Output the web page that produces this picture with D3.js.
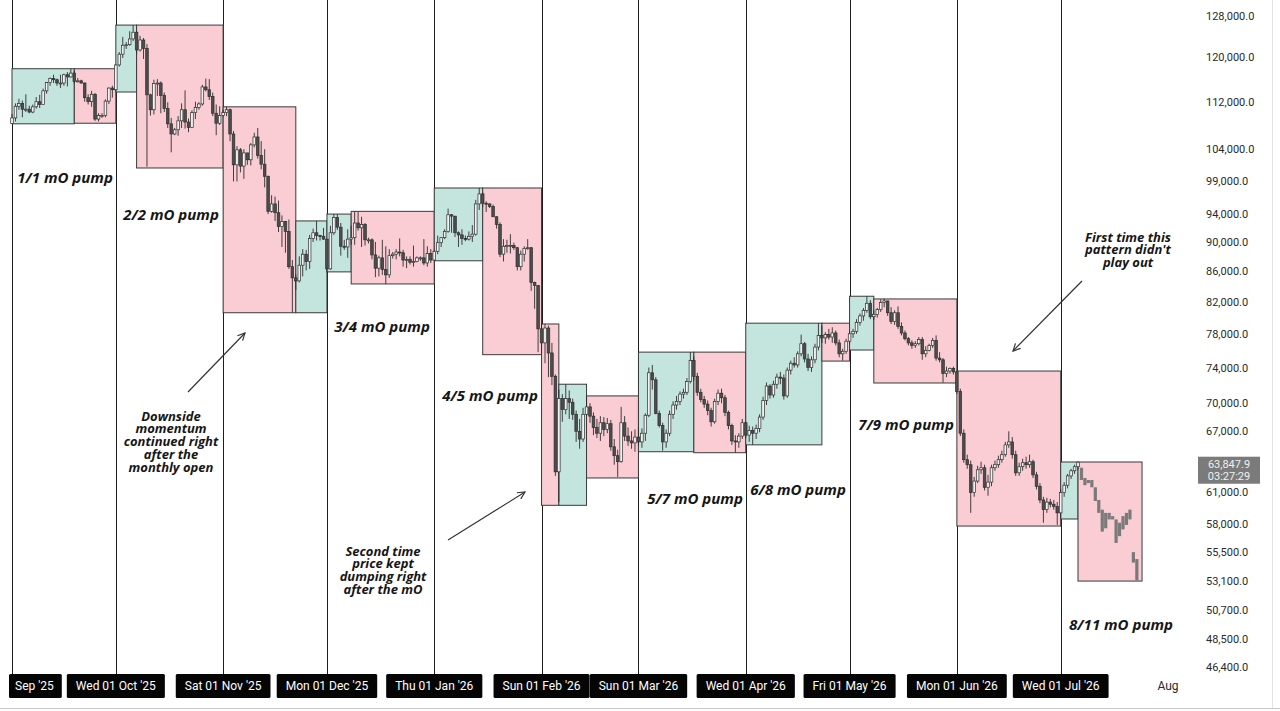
<!DOCTYPE html>
<html>
<head>
<meta charset="utf-8">
<script src="https://cdn.jsdelivr.net/npm/d3@7"></script>
<style>
  html, body { margin: 0; padding: 0; background: #fff; }
  svg { display: block; }
</style>
</head>
<body>
<svg id="chart" width="1280" height="711"></svg>
<script>
// prices are in USD thousands
// daily candles: [high, low, close], open = previous close
const firstOpen = 108.25

const sep25 = [[109.9,108.2,109.2],[111.7,108.6,111.2],[112.5,110.6,111.7],[112.2,109.3,110.7],[113.3,110.2,110.7],
  [111.3,110.0,110.2],[111.5,110.0,111.1],[112.8,110.8,112.0],[113.2,110.9,111.5],[114.3,111.6,113.9],
  [115.5,113.4,115.4],[116.3,114.8,116.1],[116.8,115.3,115.9],[116.1,114.8,115.3],[116.8,114.4,115.3],
  [117.0,114.8,116.8],[117.3,114.7,116.4],[117.9,116.3,117.1],[117.5,115.2,115.6],[116.2,115.4,115.7],
  [115.9,115.2,115.3],[115.4,112.0,112.7],[113.3,111.5,112.0],[113.9,111.1,113.3],[113.5,108.7,109.0],
  [110.0,108.6,109.6],[110.0,109.2,109.6],[112.4,109.3,112.1],[114.5,111.6,114.4],[114.8,112.7,114.1]]

const oct25 = [[118.7,113.9,118.6],[121.0,118.3,120.6],[123.9,119.9,122.3],[122.9,121.6,122.4],[125.0,122.2,123.5],
  [126.2,123.1,124.8],[125.0,120.6,121.4],[124.1,121.1,123.3],[123.7,119.7,121.7],[122.5,101.2,113.2],
  [113.4,109.6,110.6],[115.9,109.8,115.2],[116.0,113.0,115.3],[115.6,110.0,113.1],[113.6,110.2,110.8],
  [111.9,107.5,108.2],[109.2,103.5,106.5],[107.5,106.3,107.2],[109.5,106.2,108.7],[111.7,107.5,110.6],
  [114.0,107.4,108.5],[109.1,106.8,107.6],[110.5,107.5,110.1],[112.0,109.0,111.0],[111.9,110.6,111.6],
  [115.0,111.3,114.6],[116.1,113.8,114.1],[116.0,112.3,112.9],[113.6,109.5,110.0],[111.5,106.3,108.3],
  [111.2,108.0,109.6]]

const nov25 = [[110.6,109.4,110.1],[111.1,109.5,110.6],[110.8,105.3,106.5],[107.0,98.9,101.5],[104.5,98.9,103.9],
  [104.2,100.3,101.3],[104.0,99.3,103.4],[103.4,101.5,102.3],[105.0,101.4,104.7],[106.7,104.3,106.0],
  [107.5,102.5,103.0],[105.3,100.8,101.6],[104.0,98.0,99.7],[99.8,94.0,94.4],[96.8,94.2,95.5],
  [96.6,93.0,94.2],[96.0,91.4,92.2],[93.8,89.3,92.9],[93.0,88.5,91.5],[93.2,86.3,86.6],
  [87.5,80.6,85.1],[85.6,83.5,84.7],[88.0,84.5,86.8],[89.0,85.3,88.3],[88.9,86.1,87.3],
  [91.0,86.3,90.5],[91.9,90.0,91.3],[93.0,90.2,90.9],[91.0,90.2,90.8],[92.0,90.3,90.4]]

const dec25 = [[90.4,85.8,86.3],[92.3,86.2,91.3],[94.0,91.0,93.5],[94.0,91.7,92.1],[92.7,88.1,89.4],
  [90.3,88.9,89.3],[91.8,87.8,90.4],[92.3,89.6,90.6],[94.4,89.6,92.7],[94.4,91.6,92.0],
  [93.6,89.3,92.5],[92.7,89.5,90.3],[90.6,89.8,90.3],[90.5,87.6,88.2],[90.0,85.2,86.4],
  [88.1,85.3,87.8],[90.3,85.5,86.2],[89.4,84.3,85.5],[89.0,85.1,88.1],[88.6,87.7,88.3],
  [89.0,87.6,88.6],[90.5,88.0,88.5],[88.9,86.6,87.5],[88.0,86.4,87.6],[88.0,86.9,87.2],
  [89.5,86.6,87.3],[88.0,87.2,87.8],[88.0,87.4,87.8],[90.4,86.8,87.1],[89.4,86.6,88.4],
  [89.0,87.1,87.5]]

const jan26 = [[88.9,87.4,88.7],[90.9,88.3,89.9],[90.7,89.3,90.6],[91.8,90.4,91.5],[94.8,91.3,93.9],
  [94.0,91.3,93.7],[93.7,90.7,91.3],[91.5,89.3,91.0],[91.8,89.6,90.5],[90.9,90.1,90.4],
  [91.5,90.2,90.8],[92.4,90.0,91.1],[96.1,90.9,95.5],[97.9,94.6,97.0],[97.2,95.0,95.6],
  [95.9,94.3,95.5],[95.6,94.9,95.1],[95.4,93.6,93.6],[93.7,91.9,92.5],[92.8,87.9,88.3],
  [90.4,87.3,89.4],[90.3,88.5,89.5],[91.1,88.4,89.5],[89.9,88.9,89.2],[89.3,86.1,86.6],
  [88.8,86.1,88.3],[89.4,87.3,89.1],[90.4,88.9,89.2],[89.3,83.4,84.5],[84.6,81.1,84.1],
  [84.1,75.8,78.6]]

const feb26 = [[79.3,75.6,76.9],[79.2,74.5,78.7],[79.0,72.9,75.7],[76.9,72.0,73.0],[73.2,62.5,62.9],
  [71.5,60.0,70.5],[71.0,68.0,69.3],[72.1,68.8,70.5],[71.4,68.3,70.1],[70.5,68.2,68.8],
  [69.2,65.9,67.0],[68.3,65.2,66.2],[69.5,65.9,68.8],[70.8,68.6,69.6],[70.0,67.9,68.6],
  [69.0,66.6,67.4],[68.3,66.3,66.8],[68.6,66.0,67.9],[68.5,66.5,67.2],[68.4,66.8,67.8],
  [68.2,65.0,65.4],[66.2,63.6,64.5],[65.1,62.4,63.9],[69.6,63.8,67.9],[68.6,66.0,66.5],
  [67.4,65.5,66.0],[67.0,65.2,65.8],[67.2,64.9,66.4]]

const mar26 = [[67.4,65.5,65.9],[67.3,65.3,66.8],[68.9,66.0,68.7],[74.0,68.5,73.4],[74.3,71.5,72.6],
  [72.9,68.8,68.9],[69.2,67.4,67.6],[67.9,65.0,65.9],[67.2,65.3,66.8],[69.2,66.5,68.8],
  [70.2,68.3,69.8],[70.8,69.3,70.2],[71.3,69.8,71.0],[71.6,70.5,71.2],[72.8,70.9,72.4],
  [75.8,72.2,74.8],[75.3,72.5,73.0],[73.4,70.8,71.2],[71.6,70.1,70.4],[70.8,69.5,69.9],
  [70.3,68.7,69.2],[69.5,67.5,68.0],[70.5,67.8,70.2],[71.5,69.8,71.1],[71.6,70.0,70.6],
  [70.9,68.6,69.0],[69.2,67.2,67.6],[67.8,65.6,66.0],[66.6,64.8,65.9],[66.8,65.3,66.5],
  [68.3,66.2,67.9]]

const apr26 = [[68.0,66.3,66.6],[67.6,65.9,67.1],[67.5,65.6,66.8],[67.7,66.2,67.3],[68.8,66.9,68.5],
  [70.7,68.2,70.3],[72.3,69.8,71.9],[72.1,70.5,70.9],[72.5,70.6,72.1],[73.3,71.6,72.9],
  [73.5,72.1,72.8],[73.2,70.4,70.8],[74.0,70.6,73.7],[74.8,73.2,74.5],[75.2,74.0,74.3],
  [75.9,74.0,75.6],[77.9,75.3,76.8],[77.0,74.6,75.0],[75.6,73.6,74.0],[75.3,73.5,74.9],
  [76.8,74.5,76.4],[79.3,76.0,77.8],[79.0,76.9,77.5],[78.2,76.8,77.9],[78.6,77.3,77.6],
  [78.8,76.9,78.1],[78.4,76.6,76.9],[77.3,75.2,75.6],[76.2,74.8,75.9],[77.4,75.6,77.1]]

const may26 = [[78.3,76.8,78.0],[78.6,77.5,78.3],[79.8,78.0,79.4],[80.5,79.0,80.2],[81.2,79.6,80.9],
  [82.7,80.6,81.8],[82.2,79.8,80.1],[80.9,79.7,80.4],[81.2,80.0,81.0],[82.3,80.7,81.9],
  [82.4,81.3,82.1],[82.1,80.2,80.6],[81.3,79.2,79.5],[80.9,79.1,80.6],[81.4,78.6,78.9],
  [79.4,77.8,78.1],[78.4,77.2,77.4],[77.6,76.6,76.9],[77.2,76.2,76.6],[77.1,76.3,76.8],
  [77.6,76.6,77.3],[77.6,74.9,75.6],[76.5,75.2,76.0],[76.8,75.9,76.6],[77.5,76.3,77.2],
  [77.8,74.8,75.1],[75.8,74.6,74.9],[75.1,72.3,73.3],[74.1,72.9,73.6],[74.0,73.3,73.9],
  [74.1,73.2,73.5]]

const jun26 = [[73.6,71.0,71.3],[71.6,66.5,66.8],[67.2,63.8,64.1],[64.6,63.2,63.6],[64.0,59.0,60.9],
  [62.4,60.5,62.0],[63.5,61.8,63.1],[63.9,62.7,63.3],[63.6,61.1,61.4],[62.6,60.6,61.9],
  [63.6,61.5,63.3],[64.0,63.0,63.6],[64.5,63.3,64.1],[65.0,63.8,64.6],[65.9,64.4,65.6],
  [67.0,65.3,65.9],[66.4,64.2,64.6],[65.0,62.5,62.8],[63.8,62.5,63.4],[64.2,63.0,63.8],
  [64.4,63.2,63.6],[64.6,63.3,63.9],[64.1,62.3,62.6],[62.9,61.2,61.5],[61.8,59.9,60.2],
  [60.5,58.1,59.3],[60.4,59.0,60.0],[60.3,59.5,59.8],[60.2,59.3,59.6],[60.0,57.9,59.0]]

const jul26 = [[61.2,58.5,60.9],[61.9,60.5,61.6],[62.7,61.3,62.5],[63.2,62.2,63.0],[63.6,62.7,63.4],
  [63.87,63.1,63.85]]

// projected bars after the last candle, [top, bottom], from Jul 7 on
const ghostStart = "2026-07-07"
const ghostBars = [[63.3,62.1],[62.3,61.6],[62.1,61.8],[62.1,61.4],[61.4,60.1],[60.2,59.0],
  [59.3,57.3],[59.0,57.6],[59.0,58.4],[58.7,58.4],[58.4,56.3],[58.1,56.9],[58.7,57.5],
  [59.0,57.9],[59.3,58.4],[55.5,54.6],[54.9,53.1]]

const monthData = [["2025-09-01", sep25], ["2025-10-01", oct25], ["2025-11-01", nov25], ["2025-12-01", dec25],
  ["2026-01-01", jan26], ["2026-02-01", feb26], ["2026-03-01", mar26], ["2026-04-01", apr26],
  ["2026-05-01", may26], ["2026-06-01", jun26], ["2026-07-01", jul26]]

// monthly-open boxes: [start, end, top, bottom, kind]
const boxes = [
  ["2025-09-01", "2025-09-19", 117.9, 108.2, "up"], ["2025-09-19", "2025-10-01", 117.9, 108.3, "down"],
  ["2025-10-01", "2025-10-07", 126.2, 113.7, "up"], ["2025-10-07", "2025-11-01", 126.2, 101.0, "down"],
  ["2025-11-01", "2025-11-22", 111.1, 80.6, "down"], ["2025-11-22", "2025-12-01", 93.0, 80.6, "up"],
  ["2025-12-01", "2025-12-08", 94.0, 85.9, "up"], ["2025-12-08", "2026-01-01", 94.4, 84.3, "down"],
  ["2026-01-01", "2026-01-15", 97.9, 87.4, "up"], ["2026-01-15", "2026-02-01", 97.9, 75.5, "down"],
  ["2026-02-01", "2026-02-06", 79.2, 59.7, "down"], ["2026-02-06", "2026-02-14", 72.1, 59.7, "up"],
  ["2026-02-14", "2026-03-01", 70.8, 62.3, "down"],
  ["2026-03-01", "2026-03-17", 75.8, 64.9, "up"], ["2026-03-17", "2026-04-01", 75.8, 64.8, "down"],
  ["2026-04-01", "2026-04-23", 79.3, 65.6, "up"], ["2026-04-23", "2026-05-01", 79.3, 74.75, "down"],
  ["2026-05-01", "2026-05-08", 82.7, 76.05, "up"], ["2026-05-08", "2026-06-01", 82.35, 72.24, "down"],
  ["2026-06-01", "2026-07-01", 73.6, 57.8, "down"],
  ["2026-07-01", "2026-07-06", 63.87, 58.44, "up"], ["2026-07-06", "2026-07-24T12:00", 63.87, 53.05, "down"]
]

const priceTicks = [128, 120, 112, 104, 99, 94, 90, 86, 82, 78, 74, 70, 67, 61, 58, 55.5, 53.1, 50.7, 48.5, 46.4]
const monthLines = ["2025-09-01", "2025-10-01", "2025-11-01", "2025-12-01", "2026-01-01", "2026-02-01",
  "2026-03-01", "2026-04-01", "2026-05-01", "2026-06-01", "2026-07-01"]
const monthLabels = ["Sep '25", "Wed 01 Oct '25", "Sat 01 Nov '25", "Mon 01 Dec '25", "Thu 01 Jan '26", "Sun 01 Feb '26",
  "Sun 01 Mar '26", "Wed 01 Apr '26", "Fri 01 May '26", "Mon 01 Jun '26", "Wed 01 Jul '26"]
const lastPrice = 63.8479
const countdown = "03:27:29"

const svg = d3.select("#chart")
const W = 1280, H = 711
const parse = s => new Date(s.length > 10 ? s + ":00Z" : s + "T00:00:00Z")

const x = d3.scaleUtc()
  .domain([parse("2025-09-01"), parse("2026-08-01")])
  .range([12, 1168])
const y = d3.scaleLog()
  .domain([46.4, 128])
  .range([667, 16])

const upFill = "#c4e5dd", downFill = "#f9cdd3"
const ink = "#2e2e2e"
const fmt = d3.format(",.1f")

// build candles
var candles = []
var prev = firstOpen
monthData.forEach(function (m) {
  var t0 = parse(m[0])
  m[1].forEach(function (r, i) {
    candles.push({ date: d3.utcDay.offset(t0, i), open: prev, high: r[0], low: r[1], close: r[2] })
    prev = r[2]
  })
})

// month lines
svg.append("g")
  .selectAll("line")
  .data(monthLines)
  .enter()
  .append("line")
  .attr("x1", d => Math.round(x(parse(d))) + 0.5)
  .attr("x2", d => Math.round(x(parse(d))) + 0.5)
  .attr("y1", 0)
  .attr("y2", 674)
  .attr("stroke", "#1e1e1e")
  .attr("stroke-width", 1)

// boxes
svg.append("g")
  .selectAll("rect")
  .data(boxes)
  .enter()
  .append("rect")
  .attr("x", d => x(parse(d[0])))
  .attr("y", d => y(d[2]))
  .attr("width", d => x(parse(d[1])) - x(parse(d[0])))
  .attr("height", d => y(d[3]) - y(d[2]))
  .attr("fill", d => d[4] == "up" ? upFill : downFill)
  .attr("stroke", "#3a3a3a")
  .attr("stroke-width", 1)

// candles
var bw = 2.6
var cg = svg.append("g")
cg.selectAll("line")
  .data(candles)
  .enter()
  .append("line")
  .attr("x1", d => x(d.date))
  .attr("x2", d => x(d.date))
  .attr("y1", d => y(Math.max(d.high, d.open, d.close)))
  .attr("y2", d => y(Math.min(d.low, d.open, d.close)))
  .attr("stroke", ink)
  .attr("stroke-width", 0.9)

cg.selectAll("rect")
  .data(candles)
  .enter()
  .append("rect")
  .attr("x", d => x(d.date) - bw / 2)
  .attr("y", d => y(Math.max(d.open, d.close)))
  .attr("width", bw)
  .attr("height", d => Math.max(1, Math.abs(y(d.open) - y(d.close))))
  .attr("fill", d => d.close >= d.open ? "#f2f2f2" : "#4d4d4d")
  .attr("stroke", ink)
  .attr("stroke-width", 0.7)

// projected bars
var g0 = parse(ghostStart)
svg.append("g")
  .selectAll("rect")
  .data(ghostBars)
  .enter()
  .append("rect")
  .attr("x", (d, i) => x(d3.utcDay.offset(g0, i)) - 1.6)
  .attr("y", d => y(d[0]))
  .attr("width", 3.2)
  .attr("height", d => Math.max(1.5, y(d[1]) - y(d[0])))
  .attr("fill", "#7a7a7a")

// price axis
svg.append("line")
  .attr("x1", 1272.5).attr("x2", 1272.5)
  .attr("y1", 0).attr("y2", 709)
  .attr("stroke", "#e2e2e2")
svg.append("line")
  .attr("x1", 0).attr("x2", W)
  .attr("y1", 708.5).attr("y2", 708.5)
  .attr("stroke", "#c8c8c8")

var yAxis = d3.axisRight(y)
  .tickValues(priceTicks)
  .tickFormat(d => fmt(d * 1000))
  .tickSize(0)
  .tickPadding(0)
var ya = svg.append("g")
  .attr("transform", "translate(1206,0)")
  .call(yAxis)
ya.select(".domain").remove()
ya.selectAll("text")
  .attr("fill", "#2a2a2a")
  .style("font-family", "Roboto, 'Liberation Sans', sans-serif")
  .style("font-size", "11px")

// last price tag
var lp = y(lastPrice)
svg.append("rect")
  .attr("x", 1198).attr("y", lp - 5.5)
  .attr("width", 62).attr("height", 27)
  .attr("fill", "#7b7b7b")
svg.append("text")
  .attr("x", 1229).attr("y", lp + 2)
  .attr("text-anchor", "middle")
  .attr("fill", "#f0f0f0")
  .style("font-family", "Roboto, sans-serif")
  .style("font-size", "11px")
  .selectAll("tspan")
  .data([fmt(lastPrice * 1000), countdown])
  .enter()
  .append("tspan")
  .attr("x", 1229)
  .attr("dy", (d, i) => i == 0 ? "0.35em" : 12)
  .text(d => d)

// time axis labels
var tl = svg.append("g")
monthLines.forEach(function (d, i) {
  var cx = x(parse(d))
  var g = tl.append("g")
  var t = g.append("text")
    .attr("y", 686)
    .attr("dominant-baseline", "central")
    .attr("fill", "#fff")
    .style("font-family", "Roboto, 'Liberation Sans', sans-serif")
    .style("font-size", "12px")
    .text(monthLabels[i])
  var tw = t.node().getComputedTextLength()
  var left = i == 0 ? cx - 3 : cx - tw / 2 - 9
  var bwid = i == 0 ? tw + 14 : tw + 18
  t.attr("x", i == 0 ? left + 6 : cx).attr("text-anchor", i == 0 ? "start" : "middle")
  g.insert("rect", "text")
    .attr("x", left).attr("y", 674)
    .attr("width", bwid).attr("height", 24)
    .attr("rx", 1.5)
    .attr("fill", "#050505")
})
svg.append("text")
  .attr("x", x(parse("2026-08-01")))
  .attr("y", 686)
  .attr("text-anchor", "middle")
  .attr("dominant-baseline", "central")
  .attr("fill", "#2a2a2a")
  .style("font-family", "Roboto, 'Liberation Sans', sans-serif")
  .style("font-size", "12px")
  .text("Aug")

// annotations
var noteFont = "'Open Sans', 'DejaVu Sans', sans-serif"
const pumpLabels = [
  { text: "1/1 mO pump", x: 65, y: 177 }, { text: "2/2 mO pump", x: 171, y: 214 },
  { text: "3/4 mO pump", x: 382, y: 326 }, { text: "4/5 mO pump", x: 490, y: 395 },
  { text: "5/7 mO pump", x: 695, y: 498 }, { text: "6/8 mO pump", x: 798, y: 489 },
  { text: "7/9 mO pump", x: 906, y: 424 }, { text: "8/11 mO pump", x: 1121, y: 624 }
]
svg.append("g")
  .selectAll("text")
  .data(pumpLabels)
  .enter()
  .append("text")
  .attr("x", d => d.x)
  .attr("y", d => d.y)
  .attr("text-anchor", "middle")
  .attr("dominant-baseline", "central")
  .attr("fill", "#161616")
  .style("font-family", noteFont)
  .style("font-size", "15px")
  .style("font-weight", 700)
  .style("font-style", "italic")
  .text(d => d.text)

const notes = [
  { lines: ["Downside", "momentum", "continued right", "after the", "monthly open"], x: 171, y: 416 },
  { lines: ["Second time", "price kept", "dumping right", "after the mO"], x: 383, y: 551 },
  { lines: ["First time this", "pattern didn't", "play out"], x: 1128, y: 237 }
]
notes.forEach(function (n) {
  svg.append("text")
    .attr("x", n.x)
    .attr("y", n.y)
    .attr("text-anchor", "middle")
    .attr("fill", "#161616")
    .style("font-family", noteFont)
    .style("font-size", "13px")
    .style("font-weight", 700)
    .style("font-style", "italic")
    .selectAll("tspan")
    .data(n.lines)
    .enter()
    .append("tspan")
    .attr("x", n.x)
    .attr("dy", (d, i) => i == 0 ? "0.35em" : 12.8)
    .text(d => d)
})

svg.append("defs").append("marker")
  .attr("id", "head")
  .attr("viewBox", "0 0 10 10")
  .attr("refX", 9).attr("refY", 5)
  .attr("markerWidth", 9).attr("markerHeight", 9)
  .attr("markerUnits", "userSpaceOnUse")
  .attr("orient", "auto")
  .append("path")
  .attr("d", "M1,1 L9,5 L1,9")
  .attr("fill", "none")
  .attr("stroke", "#333")
  .attr("stroke-width", 1.3)

const arrows = [[188, 392, 245, 333], [448, 540, 525, 492], [1082, 281, 1013, 351]]
svg.append("g")
  .selectAll("line")
  .data(arrows)
  .enter()
  .append("line")
  .attr("x1", d => d[0]).attr("y1", d => d[1])
  .attr("x2", d => d[2]).attr("y2", d => d[3])
  .attr("stroke", "#333")
  .attr("stroke-width", 1.2)
  .attr("marker-end", "url(#head)")
</script>
</body>
</html>
